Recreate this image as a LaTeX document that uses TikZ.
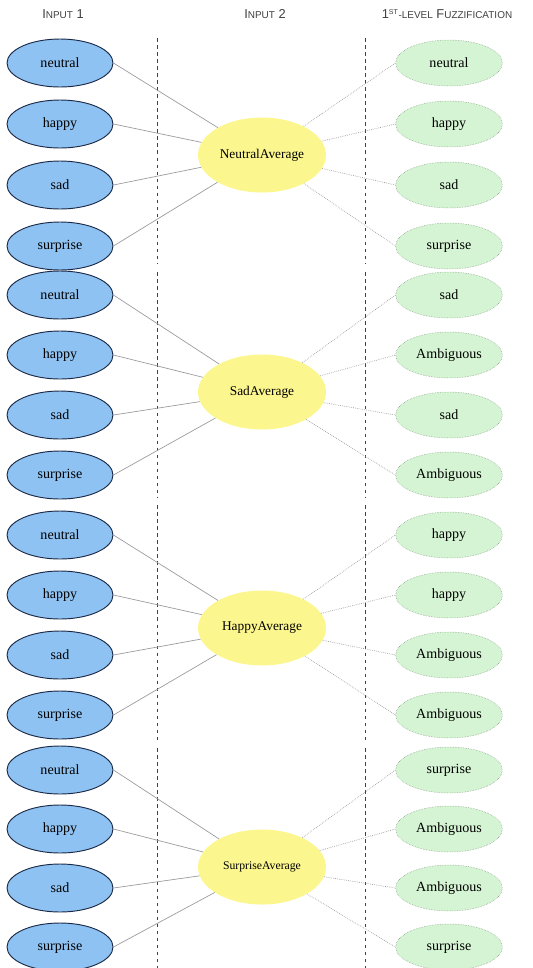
\documentclass[tikz,border=0pt]{standalone}
\usepackage{fontspec}
\setmainfont{Liberation Serif}
\setsansfont{Liberation Sans}
\usetikzlibrary{shapes.geometric}
\definecolor{inc}{HTML}{8EC2F2}
\definecolor{inb}{HTML}{1C2A48}
\definecolor{outc}{HTML}{D5F4D3}
\definecolor{outb}{HTML}{6F876F}
\definecolor{avgc}{HTML}{FCF68E}
\definecolor{linec}{HTML}{9C9C9C}
\tikzset{
  inl/.style={ellipse,draw=inb,thick,fill=inc,minimum width=3.18cm,minimum height=1.44cm,inner sep=1pt,font=\fontsize{12}{14}\selectfont},
  outl/.style={ellipse,draw=outb,densely dotted,fill=outc,minimum width=3.2cm,minimum height=1.38cm,inner sep=1pt,font=\fontsize{12}{14}\selectfont},
  avgn/.style={ellipse,fill=avgc,minimum width=3.84cm,minimum height=2.25cm,inner sep=1pt,font=\fontsize{11.4}{13}\selectfont},
  con/.style={draw=linec,semithick},
  dcon/.style={draw=linec,semithick,densely dotted},
  sep/.style={draw=black!75,dashed,thin},
  hd/.style={font=\sffamily\fontsize{11}{13}\selectfont,text=black!75}
}
\begin{document}
\begin{tikzpicture}[x=0.3mm,y=-0.3mm]
\useasboundingbox (0,0) rectangle (532,968);
% column heads
\node[hd] (hin1) at (63,14) {I{\fontsize{8.5}{10}\selectfont NPUT} 1};
\node[hd] (hin2) at (265,14) {I{\fontsize{8.5}{10}\selectfont NPUT} 2};
\node[hd] (hfuz) at (447,14) {1\textsuperscript{\fontsize{6}{7}\selectfont ST}{\fontsize{8.5}{10}\selectfont -LEVEL} F{\fontsize{8.5}{10}\selectfont UZZIFICATION}};
% separators
\foreach \ya/\yz in {38/263,272/497,505/740,748/968}{
  \draw[sep] (157,\ya) -- (157,\yz);
  \draw[sep] (365,\ya) -- (365,\yz);
}
% groups
\foreach \g/\yb/\dy/\ay/\avg/\rl in {
  1/63/61/155/NeutralAverage/{neutral,happy,sad,surprise},
  2/295/60/392/SadAverage/{sad,Ambiguous,sad,Ambiguous},
  3/535/60/628/HappyAverage/{happy,happy,Ambiguous,Ambiguous},
  4/770/59/867/{\fontsize{10}{12}\selectfont SurpriseAverage}/{surprise,Ambiguous,Ambiguous,surprise}}{
  \node[avgn] (a\g) at (262,\ay) {\avg};
  \foreach \lab [count=\k] in {neutral,happy,sad,surprise}{
    \node[inl] (l\g\k) at (60,\yb+\dy*\k-\dy) {\lab};
    \draw[con] (l\g\k.east) -- (a\g);
  }
  \foreach \lab [count=\k] in \rl{
    \node[outl] (r\g\k) at (449,\yb+\dy*\k-\dy) {\lab};
    \draw[dcon] (a\g) -- (r\g\k.west);
  }
}
\end{tikzpicture}
\end{document}
